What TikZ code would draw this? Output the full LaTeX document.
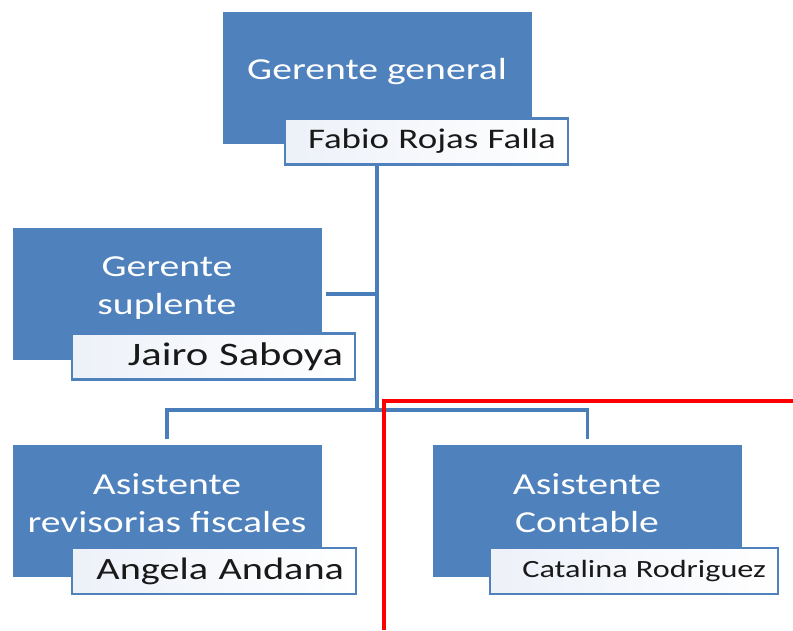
\documentclass[tikz,border=0pt]{standalone}
\usepackage{fontspec}
\setmainfont{Carlito}[FakeStretch=1.3]
\usetikzlibrary{positioning}
\definecolor{boxblue}{HTML}{4F81BD}
\definecolor{lineblue}{HTML}{4A7EBB}
\definecolor{namefade}{HTML}{EDF1F8}
\tikzset{
  rolebox/.style={draw=boxblue,fill=boxblue,minimum width=308,minimum height=131,inner sep=0pt},
  roletext/.style={text=white,align=center,font=\fontsize{30.5}{38}\selectfont},
  namebox/.style={draw=boxblue,line width=2.2pt,left color=namefade,right color=white,minimum height=46,inner xsep=12pt,inner ysep=0pt,text width=#1,align=right,text=black!90},
  link/.style={draw=lineblue,line width=3.8pt}
}

\begin{document}
\begin{tikzpicture}[x=1pt,y=-1pt]
    \useasboundingbox (0,0) rectangle (793,630);

    \node[rolebox] (gg) at (377,78) {};
    \node[roletext] (ggt) at (377,72) {Gerente general};

    \node[rolebox] (gs) at (167,294) {};
    \node[roletext] (gst) at (167,288) {Gerente\\suplente};

    \node[rolebox] (ar) at (167,511) {};
    \node[roletext] (art) at (167,503) {Asistente\\revisorias fiscales};

    \node[rolebox] (ac) at (587.5,511) {};
    \node[roletext] (act) at (587,503) {Asistente\\Contable};

    \coordinate (bus) at (377,410);
    \draw[link] (gg.south) -- (bus);
    \draw[link] ([xshift=5]gs.east) -- (gs.east -| bus);
    \draw[link] ([yshift=6]ar.north) |- (bus) -| ([yshift=6]ac.north);

    \node[namebox=259,font=\fontsize{28.4}{34}\selectfont] (ggn) at (426.5,141.5) {Fabio Rojas Falla};
    \node[namebox=259,font=\fontsize{32.8}{38}\selectfont] (gsn) at (213.5,356.5) {Jairo Saboya};
    \node[namebox=260,font=\fontsize{31}{36}\selectfont] (arn) at (214,571) {Angela Andana};
    \node[namebox=264,font=\fontsize{24.8}{30}\selectfont] (acn) at (634,571) {Catalina Rodriguez};

    \coordinate (redlow) at (384,630);
    \coordinate (redtop) at (384,401);
    \coordinate (redend) at (793,401);
    \draw[red,line width=4.5pt] (redlow) -- (redtop) -- (redend);
\end{tikzpicture}
\end{document}
